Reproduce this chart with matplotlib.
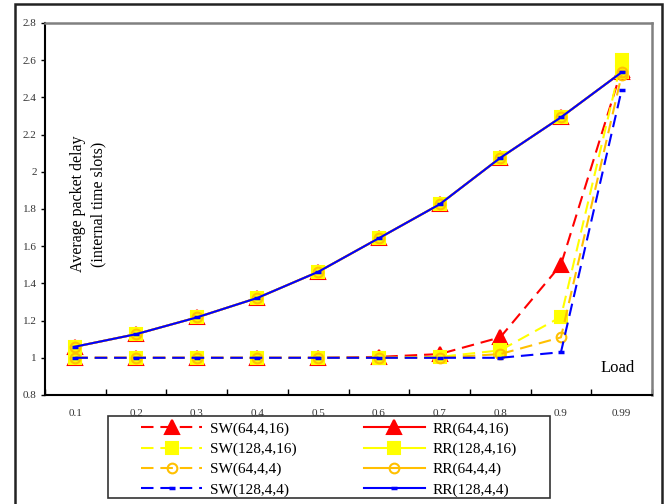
import matplotlib
matplotlib.use('Agg')
import matplotlib.pyplot as plt
from matplotlib.patches import Rectangle
import numpy as np

loads = ['0.1', '0.2', '0.3', '0.4', '0.5', '0.6', '0.7', '0.8', '0.9', '0.99']
rr_delay = [1.06, 1.127, 1.217, 1.322, 1.462, 1.643, 1.825, 2.075, 2.293, 2.535]
sw_64_4_16 = [1.0, 1.0, 1.0, 1.0, 1.0, 1.005, 1.02, 1.11, 1.50, 2.55]
sw_128_4_16 = [1.0, 1.0, 1.0, 1.0, 1.0, 1.0, 1.005, 1.04, 1.22, 2.60]
sw_64_4_4 = [1.0, 1.0, 1.0, 1.0, 1.0, 1.0, 1.0, 1.02, 1.11, 2.52]
sw_128_4_4 = [1.0, 1.0, 1.0, 1.0, 1.0, 1.0, 1.0, 1.0, 1.03, 2.44]
yticks = [0.8, 1.0, 1.2, 1.4, 1.6, 1.8, 2.0, 2.2, 2.4, 2.6, 2.8]
ytick_labels = ['0.8', '1', '1.2', '1.4', '1.6', '1.8', '2', '2.2', '2.4', '2.6', '2.8']

plt.rcParams['font.family'] = ['Liberation Serif', 'DejaVu Serif']

W, H = 669, 504
fig = plt.figure(figsize=(W/100, H/100), dpi=100)
ax = fig.add_axes([45/W, 1-395/H, (652-45)/W, (395-23)/H])

x = np.arange(len(loads))
dash = (0, (6, 3.3))
series = [
    # label, values, color, marker, ms, mfc, style
    ('SW(64,4,16)', sw_64_4_16, '#FF0000', '^', 9.5, '#FF0000', dash),
    ('RR(64,4,16)', rr_delay, '#FF0000', '^', 9.5, '#FF0000', '-'),
    ('SW(128,4,16)', sw_128_4_16, '#FFFF00', 's', 8.5, '#FFFF00', dash),
    ('RR(128,4,16)', rr_delay, '#FFFF00', 's', 8.5, '#FFFF00', '-'),
    ('SW(64,4,4)', sw_64_4_4, '#FFC000', 'o', 7, 'none', dash),
    ('RR(64,4,4)', rr_delay, '#FFC000', 'o', 7, 'none', '-'),
    ('SW(128,4,4)', sw_128_4_4, '#0000FF', '_', 5, '#0000FF', dash),
    ('RR(128,4,4)', rr_delay, '#0000FF', '_', 5, '#0000FF', '-'),
]
handles = {}
for name, vals, c, m, ms, mfc, ls in series:
    mew = 2.5 if m == '_' else 1.5
    h, = ax.plot(x, vals, color=c, ls=ls, lw=1.5, marker=m, ms=ms,
                 mfc=mfc, mec=c, mew=mew, label=name)
    handles[name] = h

ax.set_xlim(-0.5, len(loads) - 0.5)
ax.set_ylim(0.8, 2.8)
ax.set_yticks(yticks)
ax.set_yticklabels(ytick_labels)
ax.set_xticks(x)
ax.set_xticklabels(loads)
ax.set_xticks(np.arange(-0.5, len(loads)), minor=True)
ax.tick_params(axis='x', which='major', length=0, pad=10, labelsize=8, labelcolor='#333333')
ax.tick_params(axis='x', which='minor', direction='in', length=4, width=1)
ax.tick_params(axis='y', direction='out', length=3, width=1, pad=3, labelsize=8, labelcolor='#333333')

for s in ['left', 'bottom']:
    ax.spines[s].set_color('black')
    ax.spines[s].set_linewidth(1.5)
for s in ['top', 'right']:
    ax.spines[s].set_color('#808080')
    ax.spines[s].set_linewidth(1.8)

ax.text(0.944, 0.073, 'Load', transform=ax.transAxes, fontsize=12, ha='center', va='center')
fig.text(88/W, 1-204/H, 'Average packet delay\n(internal time slots)', rotation=90,
         fontsize=11.5, ha='center', va='center', linespacing=1.35, multialignment='center')

order = ['SW(64,4,16)', 'SW(128,4,16)', 'SW(64,4,4)', 'SW(128,4,4)',
         'RR(64,4,16)', 'RR(128,4,16)', 'RR(64,4,4)', 'RR(128,4,4)']
fig.legend([handles[k] for k in order], order, ncol=2, frameon=False,
           loc='upper left', bbox_to_anchor=(141/W, 1-422/H), fontsize=11,
           handlelength=4.0, handletextpad=0.5, columnspacing=4.4,
           labelspacing=0.42, borderpad=0, borderaxespad=0)
fig.patches.append(Rectangle((108/W, 1-498/H), (550-108)/W, (498-416)/H,
                             transform=fig.transFigure, fill=False, ec='#333333', lw=1.2))
# outer frame
fig.patches.append(Rectangle((15/W, -0.05), (662-15)/W, 1.05-4/H,
                             transform=fig.transFigure, fill=False, ec='#222222', lw=1.8))

fig.savefig('out.png', dpi=100)
